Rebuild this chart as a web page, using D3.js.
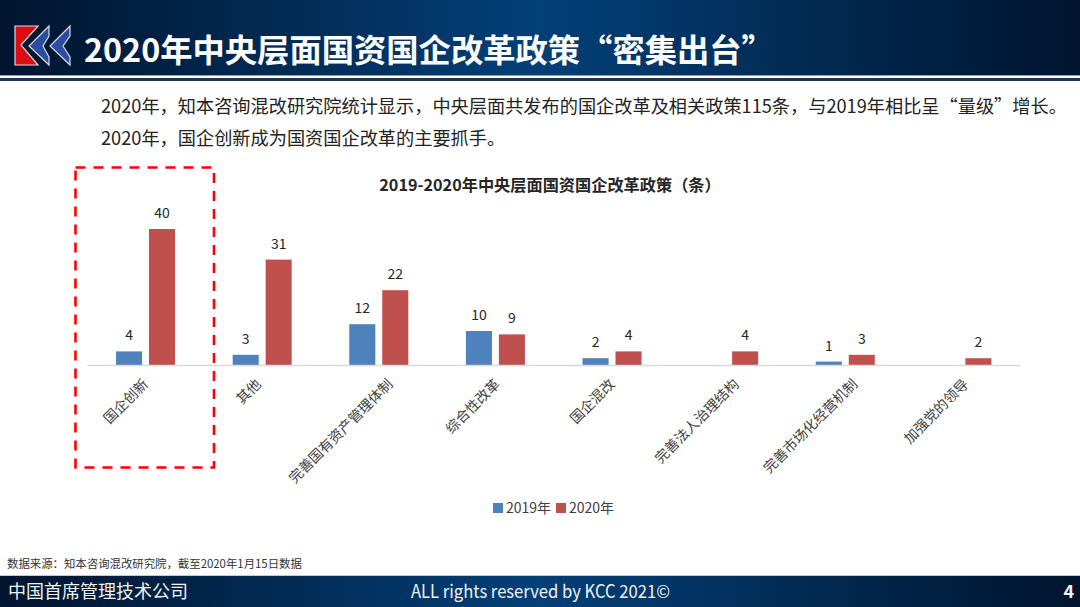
<!DOCTYPE html>
<html>
<head>
<meta charset="utf-8">
<script src="https://cdn.jsdelivr.net/npm/d3@7"></script>
<style>
body { margin: 0; background: #fff; }
svg { display: block; }
text { font-family: "Noto Sans CJK SC", "Noto Sans", sans-serif; }
</style>
</head>
<body>
<svg width="1080" height="607"></svg>
<script>
var categories = ['国企创新', '其他', '完善国有资产管理体制', '综合性改革', '国企混改', '完善法人治理结构', '完善市场化经营机制', '加强党的领导']
var values2019 = [4, 3, 12, 10, 2, null, 1, null]
var values2020 = [40, 31, 22, 9, 4, 4, 3, 2]
var seriesNames = ['2019年', '2020年']
var seriesColors = ['#4f81bd', '#c0504d']

var svg = d3.select('svg')

// header and footer gradient
var grad = svg.append('defs').append('linearGradient').attr('id', 'band')
grad.append('stop').attr('offset', '0%').attr('stop-color', '#00142e')
grad.append('stop').attr('offset', '50%').attr('stop-color', '#034078')
grad.append('stop').attr('offset', '100%').attr('stop-color', '#00142e')

svg.append('rect').attr('width', 1080).attr('height', 75).attr('fill', 'url(#band)')
svg.append('rect').attr('y', 75).attr('width', 1080).attr('height', 2).attr('fill', '#8d9db3')
svg.append('rect').attr('y', 76).attr('width', 1080).attr('height', 2).attr('fill', '#ffffff')
svg.append('rect').attr('y', 78).attr('width', 1080).attr('height', 3).attr('fill', '#1d3557')
svg.append('rect').attr('y', 575).attr('width', 1080).attr('height', 2).attr('fill', '#c4c9d0')
svg.append('rect').attr('y', 576).attr('width', 1080).attr('height', 31).attr('fill', 'url(#band)')

// logo
var logo = svg.append('g').attr('stroke', '#d5dbe3').attr('stroke-width', 1.2)
logo.append('path').attr('d', 'M15 26H38L21 45L38 65H15Z').attr('fill', '#dc0d12')
logo.append('path').attr('d', 'M40 29L25 46L41 63').attr('fill', 'none').attr('stroke', '#10182c').attr('stroke-width', 2.5)
logo.append('path').attr('d', 'M49 26L29 46L49 65V57L43 46L49 36Z').attr('fill', '#2a4fa2')
logo.append('path').attr('d', 'M70 26L50 46L70 65V57L63 46L70 36Z').attr('fill', '#2a4fa2')

svg.append('text').attr('x', 84).attr('y', 62)
    .style('font-size', '32.3px').style('font-weight', 700).attr('fill', '#fff')
    .text('2020年中央层面国资国企改革政策“密集出台”')

svg.append('text').attr('x', 101).attr('y', 113)
    .style('font-size', '18.2px').attr('fill', '#222')
    .text('2020年，知本咨询混改研究院统计显示，中央层面共发布的国企改革及相关政策115条，与2019年相比呈“量级”增长。')
svg.append('text').attr('x', 101).attr('y', 145)
    .style('font-size', '18.2px').attr('fill', '#222')
    .text('2020年，国企创新成为国资国企改革的主要抓手。')

// chart
var baseY = 365
var x0 = d3.scaleBand().domain(categories).range([87, 1020])
var x1 = d3.scaleBand().domain(seriesNames).range([x0.bandwidth() * 0.249, x0.bandwidth() * 0.755]).paddingInner(0.21)
var y = d3.scaleLinear().domain([0, 40]).range([baseY, 229])

svg.append('text').attr('x', 550).attr('y', 191).attr('text-anchor', 'middle')
    .style('font-size', '16.2px').style('font-weight', 700).attr('fill', '#262626')
    .text('2019-2020年中央层面国资国企改革政策（条）')

var series = [values2019, values2020]
series.forEach(function(vals, s) {
    var g = svg.append('g')
    var rows = categories.map(function(c, i) { return { cat: c, v: vals[i] } }).filter(function(d) { return d.v !== null })
    g.selectAll('rect').data(rows).enter().append('rect')
        .attr('x', function(d) { return x0(d.cat) + x1(seriesNames[s]) })
        .attr('y', function(d) { return y(d.v) })
        .attr('width', x1.bandwidth())
        .attr('height', function(d) { return baseY - y(d.v) })
        .attr('fill', seriesColors[s])
    g.selectAll('text').data(rows).enter().append('text')
        .attr('x', function(d) { return x0(d.cat) + x1(seriesNames[s]) + x1.bandwidth() / 2 })
        .attr('y', function(d) { return y(d.v) - 11 })
        .attr('text-anchor', 'middle')
        .style('font-size', '14px').attr('fill', '#262626')
        .text(function(d) { return d.v })
})

var xAxis = svg.append('g')
    .attr('transform', 'translate(0,' + baseY + ')')
    .call(d3.axisBottom(x0).tickSize(0))
xAxis.select('.domain').attr('stroke', '#d9d9d9').attr('stroke-width', 1.5)
// longer labels sit further right of the band centre
xAxis.selectAll('text')
    .attr('text-anchor', 'end')
    .attr('dx', 0).attr('dy', 0).attr('y', 0)
    .attr('transform', function(d) { return 'translate(' + (d.length - 2) * 1.9 + ',20) rotate(-45)' })
    .style('font-size', '14px')
    .style('font-family', '"Noto Sans CJK SC"')
    .attr('fill', '#404040')

// red dashed box
svg.append('rect').attr('x', 75.5).attr('y', 167.5).attr('width', 138.5).attr('height', 300)
    .attr('fill', 'none').attr('stroke', '#ff0000').attr('stroke-width', 2.6).attr('stroke-dasharray', '10,8')

// legend
var legendX = [493, 556]
seriesNames.forEach(function(name, i) {
    svg.append('rect').attr('x', legendX[i]).attr('y', 503).attr('width', 10).attr('height', 10).attr('fill', seriesColors[i])
    svg.append('text').attr('x', legendX[i] + 13).attr('y', 513)
        .style('font-size', '14px').attr('fill', '#404040').text(name)
})

svg.append('text').attr('x', 7).attr('y', 568)
    .style('font-size', '11.4px').attr('fill', '#333')
    .text('数据来源：知本咨询混改研究院，截至2020年1月15日数据')

svg.append('text').attr('x', 8).attr('y', 598)
    .style('font-size', '18px').attr('fill', '#f2f2f2').text('中国首席管理技术公司')
svg.append('text').attr('x', 411).attr('y', 598)
    .attr('textLength', 259).attr('lengthAdjust', 'spacingAndGlyphs')
    .style('font-size', '18px').attr('fill', '#f2f2f2').text('ALL rights reserved by KCC 2021©')
svg.append('text').attr('x', 1074).attr('y', 598).attr('text-anchor', 'end')
    .style('font-size', '18px').style('font-weight', 700).attr('fill', '#f2f2f2').text('4')
</script>
</body>
</html>
